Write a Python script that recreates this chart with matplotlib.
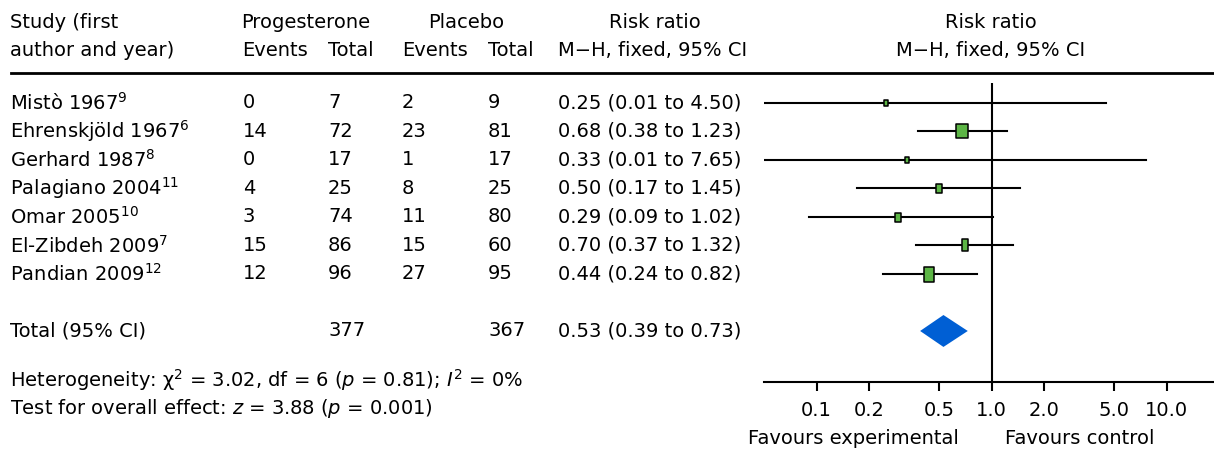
import matplotlib
matplotlib.use('Agg')
import matplotlib.pyplot as plt
from matplotlib.path import Path
from matplotlib.lines import Line2D
from matplotlib import transforms

plt.rcParams['font.family'] = ['DejaVu Sans']
plt.rcParams['mathtext.fontset'] = 'dejavusans'

# data
studies = ['Mistò 1967', 'Ehrenskjöld 1967', 'Gerhard 1987', 'Palagiano 2004',
           'Omar 2005', 'El-Zibdeh 2009', 'Pandian 2009']
refs = ['9', '6', '8', '11', '10', '7', '12']
prog_events = [0, 14, 0, 4, 3, 15, 12]
prog_total = [7, 72, 17, 25, 74, 86, 96]
plac_events = [2, 23, 1, 8, 11, 15, 27]
plac_total = [9, 81, 17, 25, 80, 60, 95]
rr = [0.25, 0.68, 0.33, 0.50, 0.29, 0.70, 0.44]
ci_lo = [0.01, 0.38, 0.01, 0.17, 0.09, 0.37, 0.24]
ci_hi = [4.50, 1.23, 7.65, 1.45, 1.02, 1.32, 0.82]
total_prog = 377
total_plac = 367
pooled = [0.53, 0.39, 0.73]
ticks = [0.1, 0.2, 0.5, 1, 2, 5, 10]
tick_labels = ['0.1', '0.2', '0.5', '1.0', '2.0', '5.0', '10.0']

# box sizes in pixels (width, height) as drawn in the original
box_w = [4.3, 11.3, 4.0, 5.7, 5.7, 6.3, 9.3]
box_h = [6.0, 14.7, 6.3, 9.0, 9.0, 12.7, 15.0]

W, H = 1214, 453
FS = 14
green = '#5cb545'
blue = '#005fd4'

fig = plt.figure(figsize=(W / 100, H / 100), dpi=100)
ax = fig.add_axes([764 / W, 1 - 382 / H, (1219.4 - 764) / W, (382 - 83) / H])
ax.set_xscale('log')
ax.set_xlim(0.05, 20)
ax.set_ylim(9.79, -0.7)

rows = list(range(len(studies)))
total_row = len(studies) + 1

ax.axvline(1, color='black', lw=1.5, zorder=1)
for i in rows:
    ax.plot([ci_lo[i], ci_hi[i]], [i, i], color='black', lw=1.5, zorder=2)
    w, h = box_w[i], box_h[i]
    verts = [(-w / 2, -h / 2), (w / 2, -h / 2), (w / 2, h / 2), (-w / 2, h / 2), (-w / 2, -h / 2)]
    mk = Path(verts, closed=True)
    ax.plot(rr[i], i, marker=mk, markersize=max(w, h) * 0.72,
            markerfacecolor=green, markeredgecolor='black', markeredgewidth=1.1, zorder=3)

ax.fill([pooled[1], pooled[0], pooled[2], pooled[0]],
        [total_row, total_row - 0.56, total_row, total_row + 0.56],
        color=blue, lw=0, zorder=3)

for s in ['top', 'right', 'left']:
    ax.spines[s].set_visible(False)
ax.spines['bottom'].set_linewidth(1.5)
ax.set_yticks([])
ax.set_xticks(ticks)
ax.set_xticklabels(tick_labels, fontsize=FS)
ax.xaxis.set_minor_locator(matplotlib.ticker.NullLocator())
ax.tick_params(axis='x', direction='out', length=6.5, width=1.5, pad=7)
ax.patch.set_visible(False)

# table text
tr = transforms.blended_transform_factory(fig.transFigure, ax.transData)
def fx(px):
    return px / W
def fy(py):
    return 1 - py / H

for i in rows:
    ax.text(fx(10), i, f'{studies[i]}$^{{{refs[i]}}}$', transform=tr, fontsize=FS, va='center')
    ax.text(fx(243), i, str(prog_events[i]), transform=tr, fontsize=FS, va='center')
    ax.text(fx(328), i, str(prog_total[i]), transform=tr, fontsize=FS, va='center')
    ax.text(fx(402), i, str(plac_events[i]), transform=tr, fontsize=FS, va='center')
    ax.text(fx(488), i, str(plac_total[i]), transform=tr, fontsize=FS, va='center')
    ax.text(fx(558), i, f'{rr[i]:.2f} ({ci_lo[i]:.2f} to {ci_hi[i]:.2f})',
            transform=tr, fontsize=FS, va='center')

ax.text(fx(10), total_row, 'Total (95% CI)', transform=tr, fontsize=FS, va='center')
ax.text(fx(328), total_row, str(total_prog), transform=tr, fontsize=FS, va='center')
ax.text(fx(488), total_row, str(total_plac), transform=tr, fontsize=FS, va='center')
ax.text(fx(558), total_row, f'{pooled[0]:.2f} ({pooled[1]:.2f} to {pooled[2]:.2f})',
        transform=tr, fontsize=FS, va='center')

# headers
fig.text(fx(10), fy(22), 'Study (first', fontsize=FS, va='center')
fig.text(fx(10), fy(50), 'author and year)', fontsize=FS, va='center')
fig.text(fx(306), fy(22), 'Progesterone', fontsize=FS, va='center', ha='center')
fig.text(fx(466), fy(22), 'Placebo', fontsize=FS, va='center', ha='center')
fig.text(fx(655), fy(22), 'Risk ratio', fontsize=FS, va='center', ha='center')
fig.text(fx(242), fy(50), 'Events', fontsize=FS, va='center')
fig.text(fx(328), fy(50), 'Total', fontsize=FS, va='center')
fig.text(fx(402), fy(50), 'Events', fontsize=FS, va='center')
fig.text(fx(488), fy(50), 'Total', fontsize=FS, va='center')
fig.text(fx(653), fy(50), 'M\u2212H, fixed, 95% CI', fontsize=FS, va='center', ha='center')
fig.text(fx(991), fy(22), 'Risk ratio', fontsize=FS, va='center', ha='center')
fig.text(fx(991), fy(50), 'M\u2212H, fixed, 95% CI', fontsize=FS, va='center', ha='center')

fig.add_artist(Line2D([fx(11), 1], [fy(73), fy(73)], color='black', lw=2))

fig.text(fx(10), fy(380), 'Heterogeneity: \u03c7$^2$ = 3.02, df = 6 ($p$ = 0.81); $I^2$ = 0%',
         fontsize=FS, va='center')
fig.text(fx(10), fy(408), 'Test for overall effect: $z$ = 3.88 ($p$ = 0.001)',
         fontsize=FS, va='center')

fig.text(fx(853), fy(438), 'Favours experimental', fontsize=FS, va='center', ha='center')
fig.text(fx(1080), fy(438), 'Favours control', fontsize=FS, va='center', ha='center')

fig.savefig('out.png', dpi=100)
